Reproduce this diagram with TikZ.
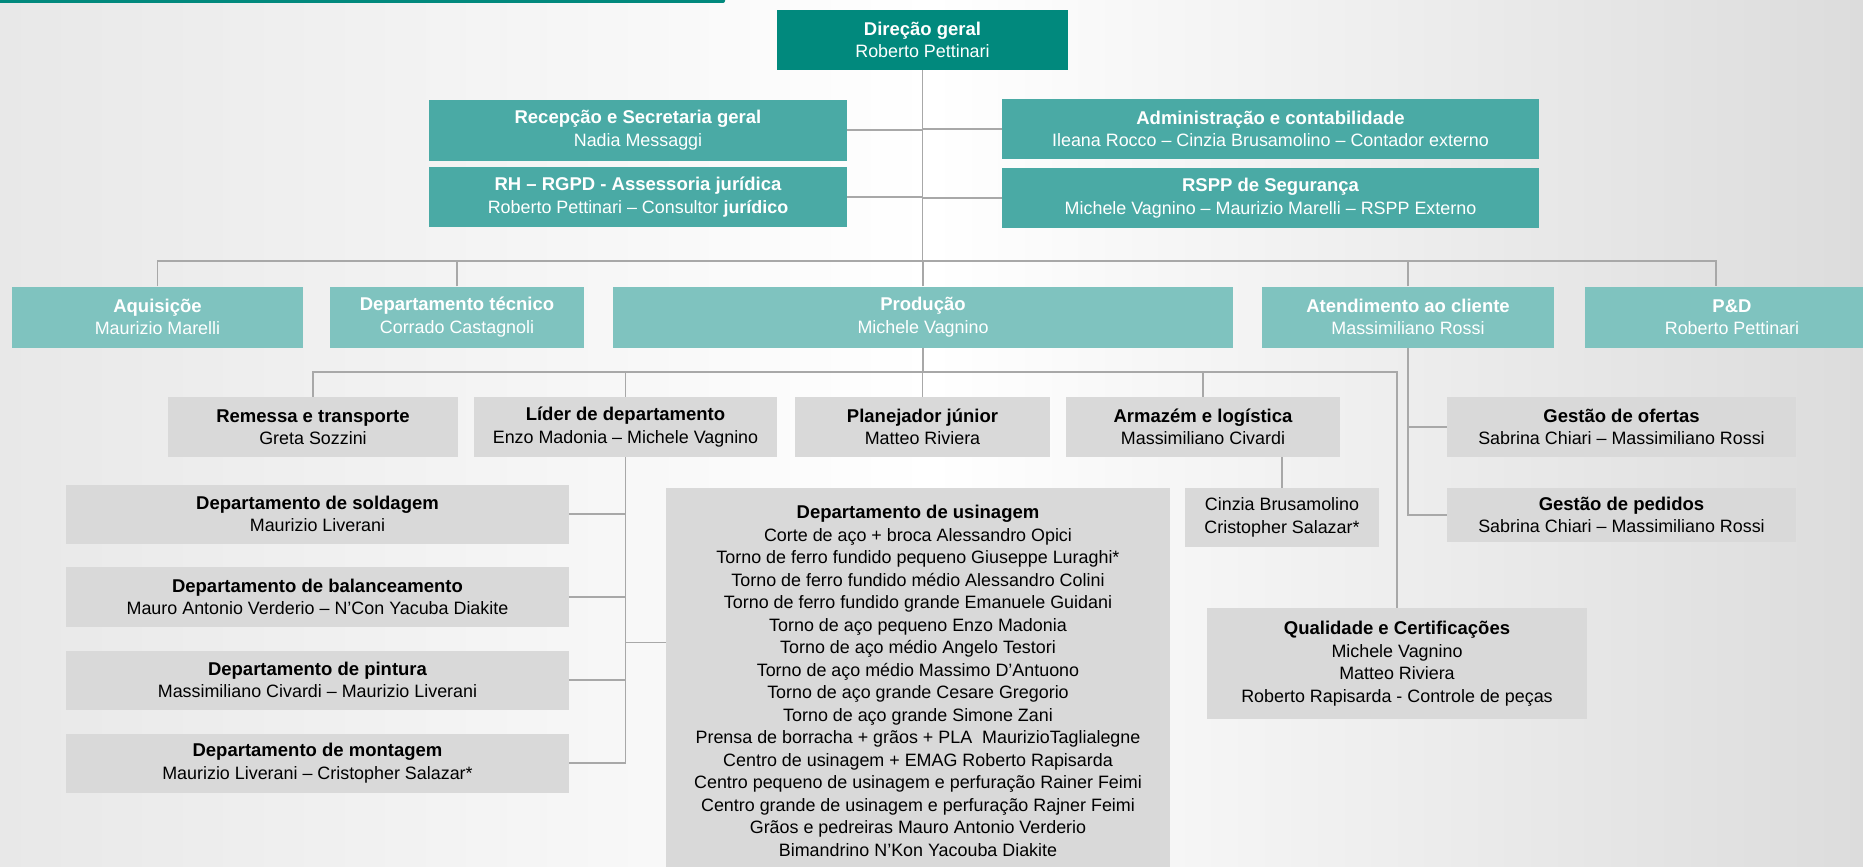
\documentclass[tikz,border=0pt]{standalone}
\usepackage{fontspec}
\setmainfont{Liberation Sans}

\definecolor{dirteal}{RGB}{1,137,125}
\definecolor{midteal}{RGB}{74,170,165}
\definecolor{lightteal}{RGB}{127,195,191}
\definecolor{boxgray}{RGB}{217,217,217}
\definecolor{linegray}{RGB}{168,168,168}
\definecolor{bgleft}{RGB}{232,232,232}
\definecolor{bgright}{RGB}{220,220,220}

\newcommand{\hd}[1]{{\fontsize{18.5}{22.5}\selectfont\bfseries #1}}

\begin{document}
\begin{tikzpicture}[x=1pt, y=-1pt, conn/.style={draw=linegray, line width=1.5pt}]
      \tikzstyle{unit} = [font=\fontsize{17.9}{22.5}\selectfont, align=center, inner sep=0pt, minimum height=60pt]
      \tikzstyle{headbox} = [unit, fill=dirteal, text=white]
      \tikzstyle{staffbox} = [unit, fill=midteal, text=white]
      \tikzstyle{areabox} = [unit, fill=lightteal, text=white]
      \tikzstyle{deptbox} = [unit, fill=boxgray, text=black]
      \useasboundingbox (0,0) rectangle (1863,867);
      \shade[left color=bgleft, right color=bgright, middle color=white] (0,0) rectangle (1863,867);
      \fill[dirteal, rounded corners=2pt] (-5,-5) rectangle (725,3);
      % direction and staff
      \node (dg) [headbox, minimum width=291pt] at (922.5,40) {\hd{Direção geral}\\Roberto Pettinari};
      \node (rec) [staffbox, minimum width=418pt, minimum height=61pt] at (638,130) {\hd{Recepção e Secretaria geral}\\Nadia Messaggi};
      \node (rh) [staffbox, minimum width=418pt] at (638,197) {\hd{RH – RGPD - Assessoria jurídica}\\Roberto Pettinari – Consultor \textbf{jurídico}};
      \node (adm) [staffbox, minimum width=537pt] at (1270.5,129) {\hd{Administração e contabilidade}\\Ileana Rocco – Cinzia Brusamolino – Contador externo};
      \node (rsp) [staffbox, minimum width=537pt] at (1270.5,198) {\hd{RSPP de Segurança}\\Michele Vagnino – Maurizio Marelli – RSPP Externo};
      % areas
      \node (aq) [areabox, minimum width=291pt, minimum height=61pt] at (157.5,317) {\hd{Aquisiçõe}\\Maurizio Marelli};
      \node (dt) [areabox, minimum width=254pt, minimum height=61pt] at (457,317) {\hd{Departamento técnico}\\Corrado Castagnoli};
      \node (prod) [areabox, minimum width=620pt, minimum height=61pt] at (923,317) {\hd{Produção}\\Michele Vagnino};
      \node (at) [areabox, minimum width=292pt, minimum height=61pt] at (1408,317) {\hd{Atendimento ao cliente}\\Massimiliano Rossi};
      \node (pd) [areabox, minimum width=294pt, minimum height=61pt] at (1732,317) {\hd{P\&D}\\Roberto Pettinari};
      % production
      \node (rem) [deptbox, minimum width=290pt] at (313,427) {\hd{Remessa e transporte}\\Greta Sozzini};
      \node (lid) [deptbox, minimum width=303pt] at (625.5,427) {\hd{Líder de departamento}\\Enzo Madonia – Michele Vagnino};
      \node (plan) [deptbox, minimum width=255pt] at (922.5,427) {\hd{Planejador júnior}\\Matteo Riviera};
      \node (arm) [deptbox, minimum width=274pt] at (1203,427) {\hd{Armazém e logística}\\Massimiliano Civardi};
      \node (cin) [deptbox, minimum width=194pt, minimum height=59pt] at (1282,517.5) {Cinzia Brusamolino\\Cristopher Salazar*};
      \node (sold) [deptbox, minimum width=503pt, minimum height=59pt] at (317.5,514) {\hd{Departamento de soldagem}\\Maurizio Liverani};
      \node (bal) [deptbox, minimum width=503pt] at (317.5,597) {\hd{Departamento de balanceamento}\\Mauro Antonio Verderio – N’Con Yacuba Diakite};
      \node (pin) [deptbox, minimum width=503pt, minimum height=59pt] at (317.5,680) {\hd{Departamento de pintura}\\Massimiliano Civardi – Maurizio Liverani};
      \node (mon) [deptbox, minimum width=503pt, minimum height=59pt] at (317.5,763) {\hd{Departamento de montagem}\\Maurizio Liverani – Cristopher Salazar*};
      \node (usin) [deptbox, minimum width=504pt, minimum height=386pt] at (918,681) {\hd{Departamento de usinagem}\\
        Corte de aço + broca Alessandro Opici\\
        Torno de ferro fundido pequeno Giuseppe Luraghi*\\
        Torno de ferro fundido médio Alessandro Colini\\
        Torno de ferro fundido grande Emanuele Guidani\\
        Torno de aço pequeno Enzo Madonia\\
        Torno de aço médio Angelo Testori\\
        Torno de aço médio Massimo D’Antuono\\
        Torno de aço grande Cesare Gregorio\\
        Torno de aço grande Simone Zani\\
        Prensa de borracha + grãos + PLA~ MaurizioTaglialegne\\
        Centro de usinagem + EMAG Roberto Rapisarda\\
        Centro pequeno de usinagem e perfuração Rainer Feimi\\
        Centro grande de usinagem e perfuração Rajner Feimi\\
        Grãos e pedreiras Mauro Antonio Verderio\\
        Bimandrino N’Kon Yacouba Diakite};
      \node (qual) [deptbox, minimum width=380pt, minimum height=111pt] at (1397,663.5) {\hd{Qualidade e Certificações}\\Michele Vagnino\\Matteo Riviera\\Roberto Rapisarda - Controle de peças};
      % customer service
      \node (gof) [deptbox, minimum width=349pt] at (1621.5,427) {\hd{Gestão de ofertas}\\Sabrina Chiari – Massimiliano Rossi};
      \node (gpe) [deptbox, minimum width=349pt, minimum height=54pt] at (1621.5,515) {\hd{Gestão de pedidos}\\Sabrina Chiari – Massimiliano Rossi};
      % connectors
      \coordinate (bus) at (922.5,261);
      \coordinate (pbus) at (922.5,372);
      \draw[conn] (dg.south) -- (bus);
      \draw[conn] (rec.east) -- (rec.east -| dg.south);
      \draw[conn] (rh.east) -- (rh.east -| dg.south);
      \draw[conn] (adm.west) -- (adm.west -| dg.south);
      \draw[conn] (rsp.west) -- (rsp.west -| dg.south);
      \draw[conn] (aq.north) |- (bus) -| ([xshift=-16pt]pd.north);
      \draw[conn] (dt.north) -- (dt.north |- bus);
      \draw[conn] (prod.north) -- (prod.north |- bus);
      \draw[conn] (at.north) -- (at.north |- bus);
      \draw[conn] (prod.south) -- (prod.south |- pbus);
      \draw[conn] (rem.north) |- (pbus) -| (qual.north);
      \draw[conn] (lid.north) -- (lid.north |- pbus);
      \draw[conn] (plan.north) -- (plan.north |- pbus);
      \draw[conn] (arm.north) -- (arm.north |- pbus);
      \draw[conn] (cin.north) -- (cin.north |- arm.south);
      \draw[conn] (lid.south) |- (mon.east);
      \draw[conn] (sold.east) -- (sold.east -| lid.south);
      \draw[conn] (bal.east) -- (bal.east -| lid.south);
      \draw[conn] (pin.east) -- (pin.east -| lid.south);
      \draw[conn] ([yshift=38.5pt]usin.west) -- ([yshift=38.5pt]usin.west -| lid.south);
      \draw[conn] (at.south) |- (gpe.west);
      \draw[conn] (gof.west) -- (gof.west -| at.south);
    \end{tikzpicture}
\end{document}
